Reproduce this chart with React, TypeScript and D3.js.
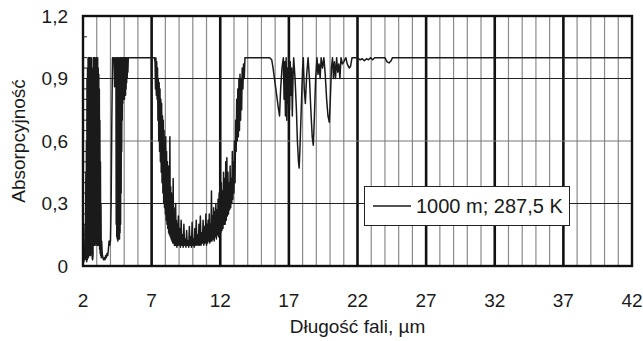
import * as d3 from "d3";
import React from "react";

// absorption spectrum: [wavelength µm, absorptivity]
const bandWater1: [number, number][] = [
  [2.0, 0.02], [2.03, 0.04], [2.06, 0.02], [2.09, 0.08], [2.12, 0.03], [2.15, 0.2],
  [2.18, 0.05], [2.21, 0.45], [2.23, 0.03], [2.25, 0.6], [2.27, 0.02], [2.29, 0.9],
  [2.31, 0.03], [2.33, 0.95], [2.35, 0.05], [2.37, 1.0], [2.39, 0.04], [2.41, 1.0],
  [2.43, 0.06], [2.45, 1.0], [2.47, 0.05], [2.49, 1.0], [2.51, 0.08], [2.53, 1.0],
  [2.55, 0.05], [2.57, 0.98], [2.59, 0.1], [2.61, 1.0], [2.63, 0.06], [2.65, 0.95],
  [2.67, 0.04], [2.7, 0.03], [2.73, 0.05], [2.75, 1.0], [2.77, 0.12], [2.79, 1.0],
  [2.81, 0.1], [2.83, 1.0], [2.85, 0.12], [2.87, 1.0], [2.89, 0.1], [2.91, 0.98],
  [2.93, 0.11], [2.95, 1.0], [2.97, 0.12], [2.99, 1.0], [3.01, 0.1], [3.03, 0.97],
  [3.05, 0.12], [3.07, 1.0], [3.09, 0.1], [3.11, 0.95], [3.13, 0.11], [3.15, 0.92],
  [3.17, 0.1], [3.19, 0.85], [3.21, 0.08], [3.23, 0.7], [3.25, 0.06], [3.27, 0.5],
  [3.29, 0.05], [3.31, 0.3], [3.33, 0.04], [3.36, 0.12], [3.4, 0.06], [3.45, 0.04],
  [3.5, 0.03], [3.55, 0.04], [3.6, 0.03], [3.65, 0.05], [3.7, 0.04], [3.75, 0.06],
  [3.8, 0.05], [3.85, 0.08], [3.9, 0.12], [3.95, 0.1], [4.0, 0.12], [4.05, 0.3],
  [4.1, 0.7], [4.15, 1.0], [4.25, 1.0], [4.3, 0.86], [4.35, 1.0],
];

const bandCO2: [number, number][] = [
  [4.4, 0.95], [4.42, 0.2], [4.44, 1.0], [4.46, 0.14], [4.48, 1.0], [4.5, 0.13],
  [4.52, 1.0], [4.54, 0.12], [4.56, 0.98], [4.58, 0.13], [4.6, 1.0], [4.62, 0.14],
  [4.64, 0.97], [4.66, 0.13], [4.68, 1.0], [4.7, 0.16], [4.72, 1.0], [4.74, 0.2],
  [4.76, 1.0], [4.78, 0.35], [4.8, 1.0], [4.82, 0.55], [4.84, 1.0], [4.86, 0.7],
  [4.88, 1.0], [4.9, 0.78], [4.92, 1.0], [4.94, 0.8], [4.96, 1.0], [4.98, 0.82],
  [5.0, 1.0], [5.02, 0.8], [5.04, 1.0], [5.06, 0.83], [5.08, 1.0], [5.1, 0.82],
  [5.12, 1.0], [5.14, 0.85], [5.16, 1.0], [5.18, 0.88], [5.2, 1.0], [5.22, 0.9],
  [5.24, 1.0], [5.27, 0.93], [5.3, 1.0], [5.35, 1.0], [7.2, 1.0],
];

const bandWindowFall: [number, number][] = [
  [7.25, 0.98], [7.28, 0.85], [7.31, 1.0], [7.34, 0.82], [7.37, 0.98], [7.4, 0.8],
  [7.43, 0.95], [7.46, 0.7], [7.49, 0.9], [7.52, 0.6], [7.55, 0.88], [7.58, 0.55],
  [7.61, 0.85], [7.64, 0.5], [7.67, 0.8], [7.7, 0.45], [7.73, 0.78], [7.76, 0.4],
  [7.79, 0.72], [7.82, 0.35], [7.85, 0.7], [7.88, 0.3], [7.91, 0.65], [7.94, 0.28],
  [7.97, 0.6], [8.0, 0.25], [8.03, 0.62], [8.06, 0.22], [8.09, 0.55], [8.12, 0.2],
  [8.15, 0.5], [8.18, 0.18], [8.21, 0.48], [8.24, 0.16], [8.27, 0.42], [8.3, 0.15],
  [8.33, 0.62], [8.36, 0.14], [8.39, 0.38], [8.42, 0.13], [8.45, 0.35], [8.48, 0.12],
  [8.51, 0.3], [8.54, 0.11], [8.57, 0.42], [8.6, 0.11], [8.63, 0.28], [8.66, 0.1],
  [8.69, 0.25], [8.72, 0.1], [8.75, 0.3], [8.78, 0.1], [8.81, 0.22], [8.84, 0.09],
  [8.87, 0.2], [8.9, 0.1],
];

const bandWindowFloor: [number, number][] = [
  [8.95, 0.24], [9.0, 0.1], [9.05, 0.18], [9.1, 0.09], [9.15, 0.22], [9.2, 0.1],
  [9.25, 0.15], [9.3, 0.09], [9.35, 0.2], [9.4, 0.1], [9.45, 0.13], [9.5, 0.09],
  [9.55, 0.17], [9.6, 0.1], [9.65, 0.12], [9.7, 0.09], [9.75, 0.19], [9.8, 0.1],
  [9.85, 0.14], [9.9, 0.09], [9.95, 0.21], [10.0, 0.1], [10.05, 0.13], [10.1, 0.09],
  [10.15, 0.18], [10.2, 0.1], [10.25, 0.22], [10.3, 0.1], [10.35, 0.15], [10.4, 0.1],
  [10.45, 0.2], [10.5, 0.1], [10.55, 0.24], [10.6, 0.1], [10.65, 0.16], [10.7, 0.11],
  [10.75, 0.22], [10.8, 0.1], [10.85, 0.19], [10.9, 0.11], [10.95, 0.25], [11.0, 0.1],
];

const bandWindowRise: [number, number][] = [
  [11.04, 0.2], [11.08, 0.11], [11.12, 0.22], [11.16, 0.12], [11.2, 0.25], [11.24, 0.11],
  [11.28, 0.2], [11.32, 0.12], [11.36, 0.36], [11.4, 0.12], [11.44, 0.24], [11.48, 0.13],
  [11.52, 0.28], [11.56, 0.12], [11.6, 0.26], [11.64, 0.14], [11.68, 0.3], [11.72, 0.13],
  [11.76, 0.27], [11.8, 0.15], [11.84, 0.32], [11.88, 0.14], [11.92, 0.35], [11.96, 0.15],
  [12.0, 0.38], [12.04, 0.16], [12.08, 0.4], [12.12, 0.17], [12.16, 0.36], [12.2, 0.18],
  [12.24, 0.45], [12.28, 0.2], [12.32, 0.42], [12.36, 0.2], [12.4, 0.5], [12.44, 0.22],
  [12.48, 0.52], [12.52, 0.24], [12.56, 0.45], [12.6, 0.25], [12.64, 0.4], [12.68, 0.27],
  [12.72, 0.48], [12.76, 0.28], [12.8, 0.42], [12.84, 0.3], [12.88, 0.55], [12.92, 0.32],
  [12.96, 0.5], [13.0, 0.35], [13.04, 0.6], [13.08, 0.4], [13.12, 0.7], [13.16, 0.55],
  [13.2, 0.8], [13.24, 0.6], [13.28, 0.85], [13.32, 0.62], [13.36, 0.9], [13.4, 0.65],
  [13.44, 0.92], [13.48, 0.7], [13.52, 0.9], [13.56, 0.75], [13.6, 0.95], [13.65, 0.85],
  [13.7, 0.97], [13.75, 0.9], [13.8, 1.0], [15.6, 1.0],
];

const bandFarIR: [number, number][] = [
  [15.75, 0.99], [15.85, 0.95], [15.95, 0.9], [16.05, 0.85], [16.15, 0.8], [16.25, 0.75],
  [16.32, 0.72], [16.4, 0.85], [16.5, 0.95], [16.6, 1.0], [16.65, 0.8], [16.7, 0.98],
  [16.75, 0.72], [16.8, 1.0], [16.85, 0.7], [16.9, 0.95], [16.95, 0.78], [17.0, 1.0],
  [17.05, 0.75], [17.1, 0.98], [17.15, 0.82], [17.2, 0.95], [17.25, 0.72], [17.3, 0.9],
  [17.35, 1.0], [17.45, 0.9], [17.55, 0.75], [17.62, 0.6], [17.7, 0.5], [17.75, 0.47],
  [17.8, 0.55], [17.9, 0.75], [18.0, 0.95], [18.05, 1.0], [18.12, 0.85], [18.2, 0.78],
  [18.3, 0.92], [18.4, 1.0], [18.5, 0.9], [18.6, 0.75], [18.7, 0.62], [18.78, 0.58],
  [18.85, 0.7], [18.95, 0.9], [19.05, 1.0], [19.12, 0.92], [19.2, 0.97], [19.28, 0.9],
  [19.35, 1.0], [19.45, 0.95], [19.55, 1.0], [19.65, 0.92], [19.75, 0.8], [19.85, 0.72],
  [19.95, 0.69], [20.02, 0.8], [20.1, 0.95], [20.18, 1.0], [20.25, 0.9], [20.32, 0.98],
  [20.4, 0.9], [20.48, 1.0], [20.56, 0.93], [20.64, 0.97], [20.72, 0.9], [20.8, 1.0],
  [20.9, 0.97], [21.0, 0.98], [21.15, 1.0], [21.25, 0.97], [21.4, 0.95], [21.5, 0.96],
  [21.6, 1.0], [21.9, 1.0], [22.2, 0.99], [22.35, 0.995], [22.5, 0.985], [22.65, 0.995],
  [22.8, 0.99], [22.95, 1.0], [23.1, 0.99], [23.25, 1.0], [24.0, 1.0], [24.15, 0.98],
  [24.3, 0.975], [24.45, 0.985], [24.55, 1.0], [42.0, 1.0],
];

const spectrum = [
  ...bandWater1, ...bandCO2, ...bandWindowFall, ...bandWindowFloor, ...bandWindowRise, ...bandFarIR,
];

const xTicks = [2, 7, 12, 17, 22, 27, 32, 37, 42];
const yTicks = [0, 0.3, 0.6, 0.9, 1.2];
const gridY = [0.3, 0.6, 0.9];
const minorY = [0.05, 0.1, 0.15, 0.2, 0.25, 0.35, 0.4, 0.45, 0.5, 0.55, 0.65, 0.7, 0.75, 0.8, 0.85, 0.95, 1.0, 1.1];
const legendLabel = "1000 m; 287,5 K";

const W = 643, H = 341;
const left = 83, right = 632, top = 16, bottom = 266;
const font = "'Liberation Sans', Arial, sans-serif";

export default function App() {
  const x = d3.scaleLinear().domain([2, 42]).range([left, right]);
  const y = d3.scaleLinear().domain([0, 1.2]).range([bottom, top]);
  const line = d3.line<[number, number]>().x(d => x(d[0])).y(d => y(d[1]));
  const gridX = d3.range(3, 42);
  const fmt = (v: number) => (v === 0 ? "0" : v.toFixed(1).replace(".", ","));

  return (
    <div style={{ position: "absolute", left: 0, top: 0 }}>
      <svg width={W} height={H} style={{ display: "block", background: "#fff" }} fontFamily={font}>
        {/* vertical grid */}
        {gridX.map(v => {
          const major = (v - 2) % 5 === 0;
          return (
            <line key={"gx" + v} x1={x(v)} x2={x(v)} y1={top} y2={bottom}
              stroke={major ? "#111" : "#8a8a8a"} strokeWidth={major ? 2.6 : 1.2} />
          );
        })}
        {gridY.map(v => (
          <line key={"gy" + v} x1={left} x2={right} y1={y(v)} y2={y(v)}
            stroke={v === 0.6 ? "#777" : "#222"} strokeWidth={1.1} />
        ))}
        {minorY.map(v => (
          <line key={"my" + v} x1={left} x2={left + 4} y1={y(v)} y2={y(v)} stroke="#222" strokeWidth={1} />
        ))}

        <path d={line(spectrum) ?? ""} fill="none" stroke="#1a1a1a" strokeWidth={1.5} strokeLinejoin="round" />

        {/* legend */}
        <rect x={364.5} y={186.5} width={205} height={39} fill="#fff" stroke="#222" strokeWidth={1} />
        <line x1={373} x2={411} y1={206} y2={206} stroke="#1a1a1a" strokeWidth={1.3} />
        <text x={416} y={213} fontSize={20} fill="#1a1a1a">{legendLabel}</text>

        {/* frame */}
        <rect x={left} y={top} width={right - left} height={bottom - top} fill="none" stroke="#111" strokeWidth={2.4} />

        {yTicks.map(v => (
          <text key={"yt" + v} x={68} y={y(v)} dy="0.36em" textAnchor="end" fontSize={19} fill="#1a1a1a">{fmt(v)}</text>
        ))}
        {xTicks.map(v => (
          <text key={"xt" + v} x={x(v)} y={307} textAnchor="middle" fontSize={19} fill="#1a1a1a">{v}</text>
        ))}
        <text x={(left + right) / 2} y={333} textAnchor="middle" fontSize={19} fill="#1a1a1a">Długość fali, µm</text>
        <text transform={`translate(25,${(top + bottom) / 2}) rotate(-90)`} textAnchor="middle" fontSize={19} fill="#1a1a1a">Absorpcyjność</text>
      </svg>
    </div>
  );
}
